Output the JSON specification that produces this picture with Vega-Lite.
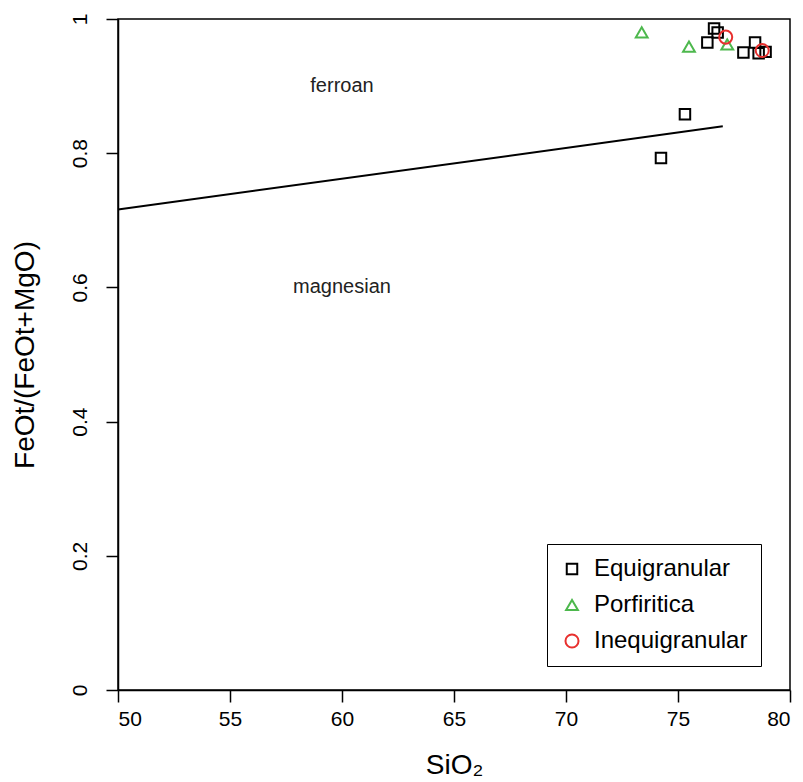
{
  "$schema": "https://vega.github.io/schema/vega-lite/v6.json",
  "width": 672,
  "height": 671,
  "autosize": {"type": "none"},
  "padding": {"left": 118, "top": 19, "right": 13, "bottom": 92},
  "background": "white",
  "config": {
    "font": "Liberation Sans",
    "view": {"stroke": "black", "strokeWidth": 1.5},
    "axis": {
      "grid": false,
      "domainColor": "black",
      "domainWidth": 1.5,
      "tickColor": "black",
      "tickWidth": 1.5,
      "tickSize": 12,
      "labelColor": "black",
      "labelFont": "Liberation Sans",
      "labelFontSize": 21,
      "titleColor": "black",
      "titleFont": "Liberation Sans",
      "titleFontWeight": "normal",
      "titleFontSize": 28
    }
  },
  "datasets": {
    "pts": [
      {"sio2": 75.31, "ratio": 0.858, "group": "Equigranular"},
      {"sio2": 74.24, "ratio": 0.793, "group": "Equigranular"},
      {"sio2": 76.61, "ratio": 0.986, "group": "Equigranular"},
      {"sio2": 76.77, "ratio": 0.980, "group": "Equigranular"},
      {"sio2": 76.31, "ratio": 0.965, "group": "Equigranular"},
      {"sio2": 77.92, "ratio": 0.950, "group": "Equigranular"},
      {"sio2": 78.44, "ratio": 0.965, "group": "Equigranular"},
      {"sio2": 78.60, "ratio": 0.949, "group": "Equigranular"},
      {"sio2": 78.91, "ratio": 0.951, "group": "Equigranular"},
      {"sio2": 73.38, "ratio": 0.980, "group": "Porfiritica"},
      {"sio2": 75.49, "ratio": 0.959, "group": "Porfiritica"},
      {"sio2": 77.20, "ratio": 0.962, "group": "Porfiritica"},
      {"sio2": 77.13, "ratio": 0.973, "group": "Inequigranular"},
      {"sio2": 78.76, "ratio": 0.953, "group": "Inequigranular"}
    ],
    "boundary": [
      {"sio2": 50, "ratio": 0.716},
      {"sio2": 77, "ratio": 0.840}
    ],
    "labels": [
      {"sio2": 60, "ratio": 0.9, "text": "ferroan"},
      {"sio2": 60, "ratio": 0.6, "text": "magnesian"}
    ]
  },
  "layer": [
    {
      "data": {"name": "boundary"},
      "mark": {"type": "line", "color": "black", "strokeWidth": 2},
      "encoding": {
        "x": {"field": "sio2", "type": "quantitative", "scale": {"domain": [50, 80], "nice": false, "zero": false},
          "axis": {"values": [50, 55, 60, 65, 70, 75, 80], "title": "SiO₂", "labelPadding": 6, "titlePadding": 22}},
        "y": {"field": "ratio", "type": "quantitative", "scale": {"domain": [0, 1], "nice": false, "zero": false},
          "axis": {"values": [0, 0.2, 0.4, 0.6, 0.8, 1], "format": "~g", "title": "FeOt/(FeOt+MgO)",
            "labelAngle": 270, "labelAlign": "center", "labelBaseline": "bottom", "labelPadding": 16, "titlePadding": 30}}
      }
    },
    {
      "data": {"name": "labels"},
      "mark": {"type": "text", "fontSize": 20, "color": "#222222", "font": "Liberation Sans"},
      "encoding": {
        "x": {"field": "sio2", "type": "quantitative"},
        "y": {"field": "ratio", "type": "quantitative"},
        "text": {"field": "text"}
      }
    },
    {
      "data": {"name": "pts"},
      "mark": {"type": "point", "filled": false, "strokeWidth": 2, "opacity": 1},
      "encoding": {
        "x": {"field": "sio2", "type": "quantitative"},
        "y": {"field": "ratio", "type": "quantitative"},
        "size": {"field": "group", "type": "nominal",
          "scale": {"domain": ["Equigranular", "Porfiritica", "Inequigranular"], "range": [110, 170, 120]},
          "legend": null},
        "shape": {"field": "group", "type": "nominal",
          "scale": {"domain": ["Equigranular", "Porfiritica", "Inequigranular"], "range": ["square", "triangle-up", "circle"]},
          "legend": null},
        "color": {"field": "group", "type": "nominal",
          "scale": {"domain": ["Equigranular", "Porfiritica", "Inequigranular"], "range": ["#000000", "#4DB84D", "#E8302E"]},
          "legend": {
            "title": null,
            "orient": "none",
            "legendX": 429,
            "legendY": 525,
            "strokeColor": "black",
            "fillColor": "white",
            "padding": 13,
            "labelFont": "Liberation Sans",
            "labelFontSize": 24,
            "labelColor": "black",
            "labelOffset": 10,
            "rowPadding": 12,
            "symbolSize": 120,
            "symbolStrokeWidth": 2,
            "symbolFillColor": "transparent",
            "symbolOpacity": 1
          }}
      }
    }
  ]
}
